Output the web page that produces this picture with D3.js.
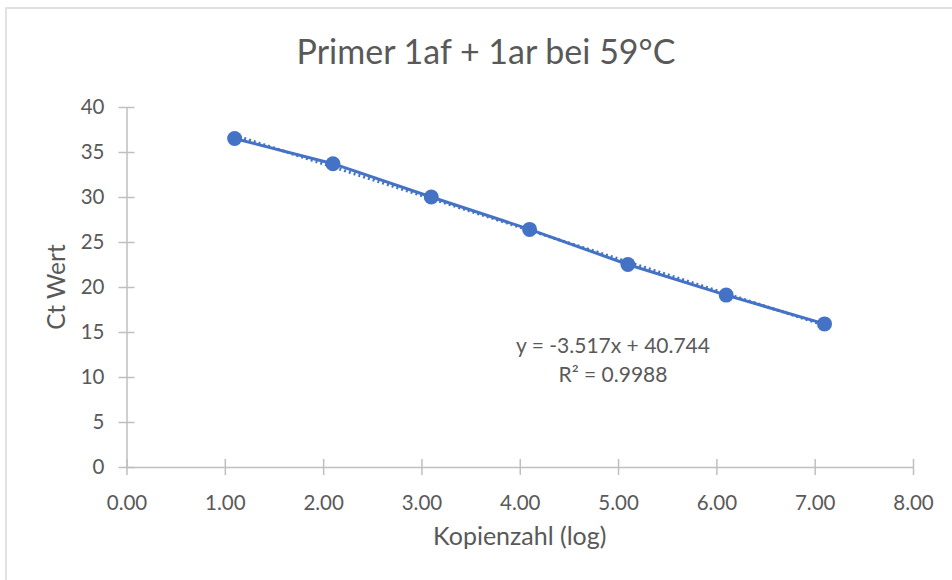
<!DOCTYPE html>
<html>
<head>
<meta charset="utf-8">
<script src="https://cdn.jsdelivr.net/npm/d3@7"></script>
<style>
  body { margin: 0; background: #fff; }
  text { font-family: Lato, "Open Sans", sans-serif; fill: #595959; }
</style>
</head>
<body>
<div id="chart"></div>
<script>
// data
const kopienLog = [1.1, 2.1, 3.1, 4.1, 5.1, 6.1, 7.1];
const ctWerte   = [36.5, 33.7, 30.0, 26.4, 22.5, 19.1, 15.9];
const xTicks = [0, 1, 2, 3, 4, 5, 6, 7, 8];
const yTicks = [0, 5, 10, 15, 20, 25, 30, 35, 40];
const titel = 'Primer 1af + 1ar bei 59°C';
const xTitel = 'Kopienzahl (log)';
const yTitel = 'Ct Wert';
const gleichung = 'y = -3.517x + 40.744';
const bestimmtheit = 'R² = 0.9988';

const width = 952, height = 580;
const margin = {top: 107, right: 39, bottom: 113, left: 126.5};
const blue = '#4472C4';

const svg = d3.select('#chart').append('svg')
    .attr('width', width)
    .attr('height', height);

// chart frame (runs off the right and bottom edge)
svg.append('rect')
    .attr('x', 6).attr('y', 8)
    .attr('width', width + 20).attr('height', height + 20)
    .attr('fill', 'none')
    .attr('stroke', '#D9D9D9')
    .attr('stroke-width', 1.5);

const x = d3.scaleLinear().domain([0, 8]).range([margin.left, width - margin.right]);
const y = d3.scaleLinear().domain([0, 40]).range([height - margin.bottom, margin.top]);

// axes
const xAxis = svg.append('g')
    .attr('transform', `translate(0,${y(0)})`)
    .call(d3.axisBottom(x).tickValues(xTicks).tickFormat(d3.format('.2f'))
        .tickSizeInner(8).tickSizeOuter(0).tickPadding(20));
xAxis.selectAll('.tick line').attr('y1', -8);

const yAxis = svg.append('g')
    .attr('transform', `translate(${x(0)},0)`)
    .call(d3.axisLeft(y).tickValues(yTicks)
        .tickSizeInner(8).tickSizeOuter(0).tickPadding(14));
yAxis.selectAll('.tick line').attr('x1', 8);

svg.selectAll('.domain, .tick line')
    .attr('stroke', '#BFBFBF')
    .attr('stroke-width', 1.5);
svg.selectAll('.tick text')
    .style('font-size', '20.5px')
    .attr('fill', '#595959');

// titles
svg.append('text')
    .attr('x', 486).attr('y', 64)
    .attr('text-anchor', 'middle')
    .style('font-size', '34px')
    .text(titel);

svg.append('text')
    .attr('x', (x(0) + x(8)) / 2).attr('y', 545)
    .attr('text-anchor', 'middle')
    .style('font-size', '25px')
    .text(xTitel);

svg.append('text')
    .attr('transform', `translate(65,${(y(0) + y(40)) / 2}) rotate(-90)`)
    .attr('text-anchor', 'middle')
    .style('font-size', '24.5px')
    .text(yTitel);

// linear trendline from least squares
const mx = d3.mean(kopienLog), my = d3.mean(ctWerte);
const slope = d3.sum(kopienLog, (v, i) => (v - mx) * (ctWerte[i] - my)) /
              d3.sum(kopienLog, v => (v - mx) * (v - mx));
const icept = my - slope * mx;
const xr = d3.extent(kopienLog);

svg.append('line')
    .attr('x1', x(xr[0])).attr('y1', y(icept + slope * xr[0]))
    .attr('x2', x(xr[1])).attr('y2', y(icept + slope * xr[1]))
    .attr('stroke', blue)
    .attr('stroke-width', 3)
    .attr('stroke-dasharray', '2,3');

// series line + markers
const points = kopienLog.map((v, i) => [v, ctWerte[i]]);
svg.append('path')
    .datum(points)
    .attr('fill', 'none')
    .attr('stroke', blue)
    .attr('stroke-width', 3)
    .attr('d', d3.line().x(d => x(d[0])).y(d => y(d[1])));

svg.selectAll('circle.pt')
    .data(points)
    .join('circle')
    .classed('pt', true)
    .attr('cx', d => x(d[0]))
    .attr('cy', d => y(d[1]))
    .attr('r', 7.5)
    .attr('fill', blue);

// trendline label
svg.append('text')
    .attr('x', 613).attr('y', 353)
    .attr('text-anchor', 'middle')
    .style('font-size', '21px')
    .text(gleichung);
svg.append('text')
    .attr('x', 613).attr('y', 382)
    .attr('text-anchor', 'middle')
    .style('font-size', '21px')
    .text(bestimmtheit);
</script>
</body>
</html>
